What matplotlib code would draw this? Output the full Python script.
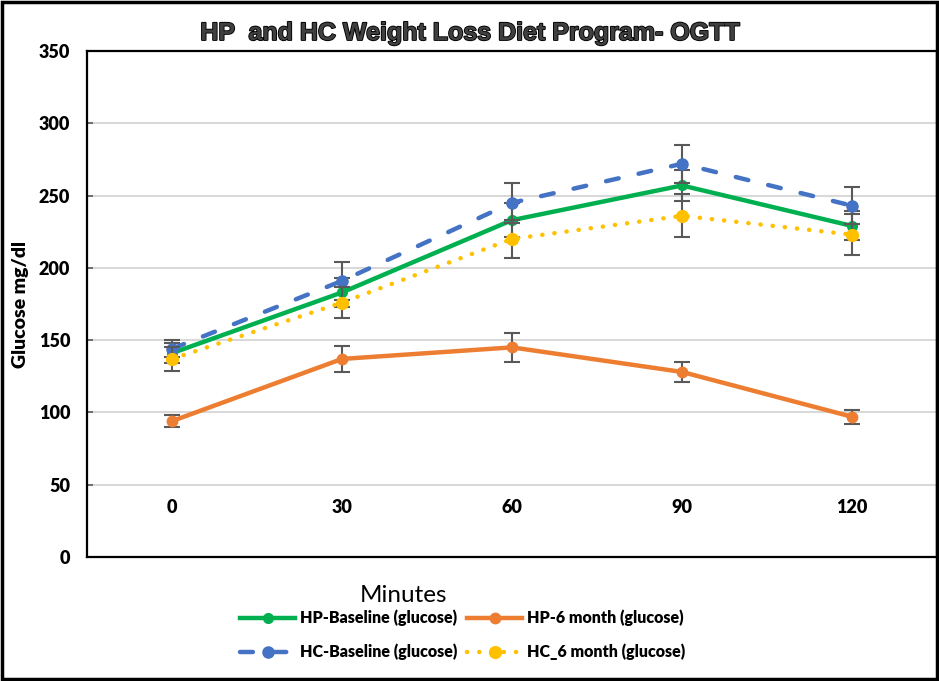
import matplotlib
matplotlib.use("Agg")
import matplotlib.pyplot as plt
import matplotlib.patheffects as pe
from matplotlib.patches import Rectangle

# OGTT glucose values (mg/dl)
minutes = ["0", "30", "60", "90", "120"]
hp_base = [141, 183, 233, 257, 229]
hp_base_err = [7, 10, 12, 11, 10]
hp_6m = [94, 137, 145, 128, 97]
hp_6m_err = [4, 9, 10, 7, 5]
hc_base = [144, 191, 245, 272, 243]
hc_base_err = [6, 13, 14, 13, 13]
hc_6m = [137, 176, 220, 236, 223]
hc_6m_err = [8, 11, 13, 15, 14]

font = "Lato"

fig = plt.figure(figsize=(9.39, 6.81), dpi=100)
ax = fig.add_axes([87 / 939, 1 - 557 / 681, 850 / 939, 506 / 681])

x = list(range(len(minutes)))
err_kw = dict(ecolor="#595959", elinewidth=1.5, capsize=6, capthick=1.5)

g = ax.errorbar(x, hp_base, yerr=hp_base_err, color="#00B050", lw=3.2,
                marker="o", ms=7, label="HP-Baseline (glucose)", zorder=3, **err_kw)
o = ax.errorbar(x, hp_6m, yerr=hp_6m_err, color="#ED7D31", lw=3.2,
                marker="o", ms=7.5, label="HP-6 month (glucose)", zorder=3, **err_kw)
b = ax.errorbar(x, hc_base, yerr=hc_base_err, color="#4472C4", lw=3.2,
                marker="o", ms=8, label="HC-Baseline (glucose)", zorder=4, **err_kw)
b[0].set_dashes((2.9, 4.6))
b[0].set_dash_capstyle("round")
y = ax.errorbar(x, hc_6m, yerr=hc_6m_err, color="#FFC000", lw=3.2,
                marker="o", ms=8.5, label="HC_6 month (glucose)", zorder=5, **err_kw)
y[0].set_dashes((0.05, 2.7))
y[0].set_dash_capstyle("round")

ax.set_xlim(-0.5, 4.5)
ax.set_ylim(0, 350)
ax.set_yticks(range(0, 351, 50))
ax.set_xticks([])
ax.grid(axis="y", color="#D9D9D9", lw=1.5, zorder=0)
ax.set_axisbelow(True)
for s in ax.spines.values():
    s.set_linewidth(1.6)
    s.set_color("black")
ax.tick_params(axis="y", direction="in", length=4, width=1.2, color="#595959", pad=12)
for lab in ax.get_yticklabels():
    lab.set_fontfamily(font)
    lab.set_fontweight("heavy")
    lab.set_fontsize(13)

# category labels sit inside the plot, between the 0 and 50 lines
for i, m in enumerate(minutes):
    ax.text(i, 34, m, ha="center", va="center", fontsize=13,
            fontweight="heavy", family=font)

fig.text(21 / 939, 1 - 304 / 681, "Glucose mg/dl", rotation=90, ha="center",
         va="center", fontsize=14, fontweight="heavy", family=font)

fig.text(470 / 939, 1 - 33 / 681, "HP  and HC Weight Loss Diet Program- OGTT",
         ha="center", va="center", fontsize=18, fontweight="bold",
         family="Liberation Sans", color="#404040",
         path_effects=[pe.withStroke(linewidth=1.3, foreground="black")])

fig.text(403 / 939, 1 - 595 / 681, "Minutes", ha="center", va="center",
         fontsize=17.5, family=font)

# row-major legend like Excel: fill column 1 then column 2
handles = [g[0], b[0], o[0], y[0]]
labels = ["HP-Baseline (glucose)", "HC-Baseline (glucose)",
          "HP-6 month (glucose)", "HC_6 month (glucose)"]
fig.legend(handles, labels, loc="center", bbox_to_anchor=(463 / 939, 1 - 635 / 681),
           ncol=2, frameon=False, handlelength=3.4, handletextpad=0.35,
           columnspacing=0.6, labelspacing=1.1,
           prop=dict(family=font, weight="heavy", size=11.5))

fig.patches.append(Rectangle((0.002, 0.003), 0.996, 0.994, transform=fig.transFigure,
                             fill=False, lw=2.5, edgecolor="black"))

fig.savefig("out.png", dpi=100)
